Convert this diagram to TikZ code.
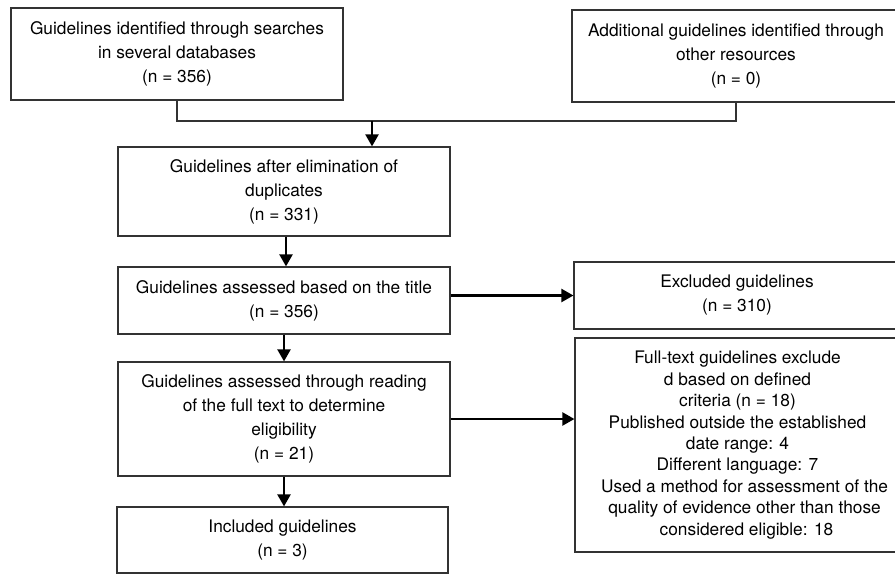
\documentclass[tikz,border=0pt]{standalone}
\usepackage{fontspec}
\setmainfont{TeX Gyre Heros}
\usetikzlibrary{arrows.meta}
\tikzset{
  box/.style={draw=black!80, line width=1.2pt, inner sep=0pt, align=center,
    font=\fontsize{17.3}{24}\selectfont},
  thin/.style={draw=black!80, line width=1.2pt},
  arr/.style={draw=black, line width=2.2pt, -{Triangle[length=12pt,width=13pt]}},
}
\begin{document}
\begin{tikzpicture}[x=1pt,y=-1pt]
\useasboundingbox (0,0) rectangle (895,575);
\clip (0,0) rectangle (895,575);
\node[box, minimum width=332pt, minimum height=92pt] (b1) at (177,54)
  {Guidelines identified through searches\\in several databases\\(n = 356)};
\node[box, minimum width=328pt, minimum height=92pt] (b2) at (736,56)
  {Additional guidelines identified through\\other resources\\(n = 0)};
\node[box, minimum width=332pt, minimum height=89pt] (b3) at (284,191.5)
  {Guidelines after elimination of\\duplicates\\(n = 331)};
\node[box, minimum width=332pt, minimum height=67pt] (b4) at (284,300.5)
  {Guidelines assessed based on the title\\(n = 356)};
\node[box, minimum width=326pt, minimum height=67pt] (b5) at (737,295.5)
  {Excluded guidelines\\(n = 310)};
\node[box, minimum width=332pt, minimum height=114pt] (b7) at (284,419)
  {Guidelines assessed through reading\\of the full text to determine\\eligibility\\(n = 21)};
\node[box, minimum width=325pt, minimum height=214pt, font=\fontsize{17.3}{21.4}\selectfont] (b6) at (737.5,445)
  {Full-text guidelines exclude\\d based on defined\\criteria (n = 18)\\Published outside the established\\date range: 4\\Different language: 7\hspace{12pt}\\\hspace{14pt}Used a method for assessment of the\\\hspace{14pt}quality of evidence other than those\\\hspace{18pt}considered eligible: 18};
\node[box, minimum width=331pt, minimum height=66pt] (b8) at (282.5,540)
  {Included guidelines\\(n = 3)};
\coordinate (m) at (372,121);
\draw[thin] (b1.south) -- (b1.south |- m) -- (b2.south |- m) -- (b2.south);
\draw[arr] (m) -- (m |- b3.north);
\draw[arr] ([xshift=2pt]b3.south) -- ([xshift=2pt]b3.south |- b4.north);
\draw[arr] (b4.south) -- (b4.south |- b7.north);
\draw[arr] (b7.south) -- (b7.south |- b8.north);
\draw[arr] (b4.east |- b5.west) -- (b5.west);
\draw[arr] (b7.east) -- (b7.east -| b6.west);
\end{tikzpicture}
\end{document}
